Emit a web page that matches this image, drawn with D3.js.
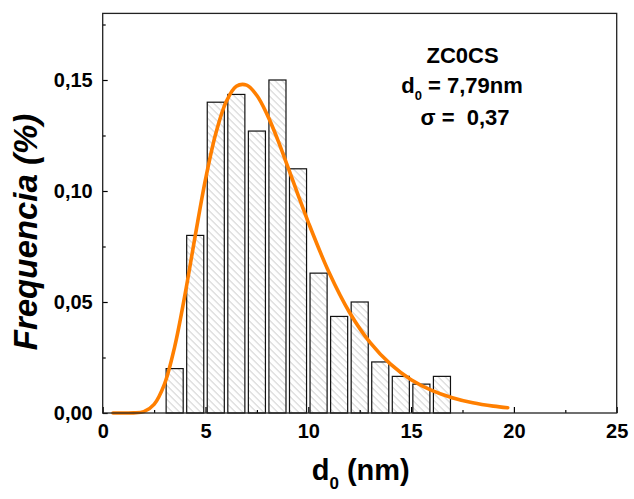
<!DOCTYPE html>
<html><head><meta charset="utf-8">
<script src="https://cdn.jsdelivr.net/npm/d3@7/dist/d3.min.js"></script>
<style>
body{margin:0;background:#fff}
svg{display:block}
text{font-family:"Liberation Sans",Arial,Helvetica,sans-serif;font-weight:bold;fill:#000}
</style>
</head><body>
<svg id="chart" width="634" height="499"></svg>
<script>
// Histogram bins (bin centres, nm) and relative frequencies
const binCenters = [3.5, 4.5, 5.5, 6.5, 7.5, 8.5, 9.5, 10.5, 11.5, 12.5, 13.5, 14.5, 15.5, 16.5];
const frequencies = [0.020, 0.080, 0.140, 0.1435, 0.127, 0.150, 0.110, 0.063, 0.0435, 0.050, 0.023, 0.0165, 0.013, 0.0165];
// Fitted log-normal curve
const fitX = [0.5, 1, 1.5, 2, 2.5, 3, 3.5, 4, 4.5, 5, 5.5, 6, 6.5, 7, 7.5, 8, 8.5, 9, 9.5, 10, 11, 12, 13, 14, 15, 16, 17, 18, 19, 19.7];
const fitY = [0, 0, 0.00004, 0.0006, 0.0039, 0.0129, 0.0298, 0.0532, 0.0798, 0.1052, 0.1259, 0.1401, 0.1472, 0.1477, 0.1430, 0.1344, 0.1234, 0.1110, 0.0983, 0.0859, 0.0635, 0.0454, 0.0318, 0.0220, 0.0150, 0.0102, 0.0069, 0.0046, 0.0031, 0.0024];
const xTicks = [0, 5, 10, 15, 20, 25];
const xMinorTicks = [2.5, 7.5, 12.5, 17.5, 22.5];
const yTicks = [0, 0.05, 0.10, 0.15];
const yMinorTicks = [0.025, 0.075, 0.125, 0.175];
const annotationLines = ["ZC0CS", "= 7,79nm", "σ =  0,37"];
const xTitle = ["d", "0", " (nm)"];
const yTitle = "Frequencia (%)";

const W = 634, H = 499;
const m = {left: 102.7, top: 13.4, right: 17.3, bottom: 86};
const iw = W - m.left - m.right, ih = H - m.top - m.bottom;
const svg = d3.select("#chart");

const defs = svg.append("defs");
const pat = defs.append("pattern").attr("id", "hatch").attr("patternUnits", "userSpaceOnUse")
  .attr("width", 7).attr("height", 7);
pat.append("path").attr("d", "M-1,-1 L8,8 M-1,6 L1,8 M6,-1 L8,1")
  .attr("stroke", "#b8b8b8").attr("stroke-width", 0.9).attr("fill", "none");

const g = svg.append("g").attr("transform", `translate(${m.left},${m.top})`);
const x = d3.scaleLinear().domain([0, 25]).range([0, iw]);
const y = d3.scaleLinear().domain([0, 0.18]).range([ih, 0]);

// bars
const bw = 0.83;
g.selectAll("rect.bar").data(binCenters).join("rect").attr("class", "bar")
  .attr("x", d => x(d - bw / 2))
  .attr("width", d => x(d + bw / 2) - x(d - bw / 2))
  .attr("y", (d, i) => y(frequencies[i]))
  .attr("height", (d, i) => y(0) - y(frequencies[i]))
  .attr("fill", "url(#hatch)").attr("stroke", "#111").attr("stroke-width", 1.2);

// curve
const pts = fitX.map((d, i) => [d, fitY[i]]);
g.append("path").datum(pts)
  .attr("d", d3.line().x(d => x(d[0])).y(d => y(d[1])).curve(d3.curveCatmullRom.alpha(0.5)))
  .attr("fill", "none").attr("stroke", "#ff7f00").attr("stroke-width", 3.6)
  .attr("stroke-linejoin", "round").attr("stroke-linecap", "round");

// axes
const fmt = d => d3.format(".2f")(d).replace(".", ",");
const xa = g.append("g").attr("transform", `translate(0,${ih})`)
  .call(d3.axisBottom(x).tickValues(xTicks).tickSizeInner(-6).tickSizeOuter(0).tickPadding(11).tickFormat(d3.format("d")));
const xm = g.append("g").attr("transform", `translate(0,${ih})`)
  .call(d3.axisBottom(x).tickValues(xMinorTicks).tickSizeInner(-3).tickSizeOuter(0).tickFormat(""));
const ya = g.append("g")
  .call(d3.axisLeft(y).tickValues(yTicks).tickSizeInner(-5).tickSizeOuter(0).tickPadding(10).tickFormat(fmt));
const ym = g.append("g")
  .call(d3.axisLeft(y).tickValues(yMinorTicks).tickSizeInner(-3).tickSizeOuter(0).tickFormat(""));
[xa, xm, ya, ym].forEach(a => {
  a.select(".domain").remove();
  a.selectAll("line").attr("stroke", "#000").attr("stroke-width", 1.2);
  a.selectAll("text").style("font-size", "20px").style("font-family", '"Liberation Sans",Arial,sans-serif').style("font-weight", "bold").attr("fill", "#000");
});

// frame
g.append("rect").attr("x", 0).attr("y", 0).attr("width", iw).attr("height", ih)
  .attr("fill", "none").attr("stroke", "#222").attr("stroke-width", 1.3);

// x title
const xt = svg.append("text").attr("x", m.left + iw / 2 + 1).attr("y", 480)
  .attr("text-anchor", "middle").style("font-size", "29px");
xt.append("tspan").text(xTitle[0]);
xt.append("tspan").attr("dy", 9).style("font-size", "17px").text(xTitle[1]);
xt.append("tspan").attr("dy", -9).style("white-space", "pre").text(xTitle[2]);

// y title
svg.append("text").attr("transform", "translate(37,232) rotate(-90)")
  .attr("text-anchor", "middle").style("font-size", "33px").style("font-style", "italic")
  .text(yTitle);

// annotation
svg.append("text").attr("x", 462.5).attr("y", 63).attr("text-anchor", "middle")
  .style("font-size", "22px").text(annotationLines[0]);
const a2 = svg.append("text").attr("x", 462).attr("y", 93).attr("text-anchor", "middle")
  .style("font-size", "22px").style("white-space", "pre");
a2.append("tspan").text("d");
a2.append("tspan").attr("dy", 7).style("font-size", "13px").text("0");
a2.append("tspan").attr("dy", -7).text(" " + annotationLines[1]);
svg.append("text").attr("x", 465).attr("y", 125).attr("text-anchor", "middle")
  .style("font-size", "22px").style("white-space", "pre").text(annotationLines[2]);
</script>
</body></html>
